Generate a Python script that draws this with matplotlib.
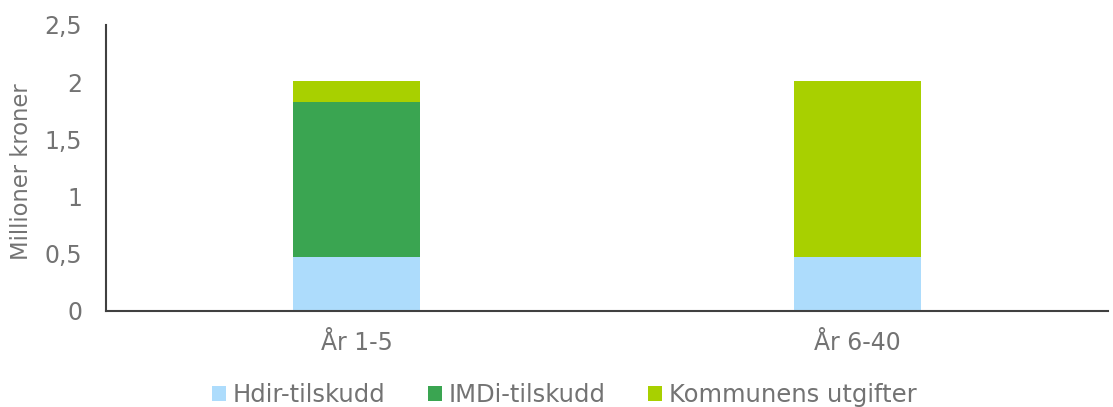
import matplotlib
matplotlib.use("Agg")
import matplotlib.pyplot as plt
import numpy as np
from matplotlib.ticker import FuncFormatter

categories = ["År 1-5", "År 6-40"]
series_names = ["Hdir-tilskudd", "IMDi-tilskudd", "Kommunens utgifter"]
hdir = [0.47, 0.47]
imdi = [1.36, 0.0]
kommune = [0.18, 1.54]
colors = ["#addcfc", "#3aa551", "#a8d000"]

plt.rcParams['font.family'] = ['DejaVu Sans']
txt = "#737373"
fs = 17

fig = plt.figure(figsize=(11.13, 4.07), dpi=100)
ax = fig.add_axes([0.0952, 0.237, 0.9003, 0.7016])

x = np.arange(len(categories))
w = 0.253
bottom = np.zeros(len(categories))
for name, vals, c in zip(series_names, [hdir, imdi, kommune], colors):
    ax.bar(x, vals, w, bottom=bottom, color=c, label=name)
    bottom += np.array(vals)

ax.set_xlim(-0.5, 1.5)
ax.set_ylim(0, 2.5)
ax.set_yticks([0, 0.5, 1, 1.5, 2, 2.5])
ax.yaxis.set_major_formatter(FuncFormatter(lambda v, p: ("%g" % v).replace(".", ",")))
ax.set_xticks(x)
ax.set_xticklabels(categories)
ax.tick_params(axis='both', length=0, labelsize=fs, colors=txt)
ax.tick_params(axis='x', pad=15)
ax.tick_params(axis='y', pad=17)
for s in ["top", "right"]:
    ax.spines[s].set_visible(False)
for s in ["left", "bottom"]:
    ax.spines[s].set_color("#404040")
    ax.spines[s].set_linewidth(1.5)

ax.set_ylabel("Millioner kroner", fontsize=16.3, color=txt)
ax.yaxis.set_label_coords(-0.073, 0.485)

leg = fig.legend(loc="center", bbox_to_anchor=(0.507, 1 - 395 / 407), ncol=3, frameon=False,
                 fontsize=17.5, handlelength=0.58, handleheight=0.58, handletextpad=0.28,
                 columnspacing=1.75, borderpad=0)
for t in leg.get_texts():
    t.set_color(txt)

fig.savefig("out.png", dpi=100)
